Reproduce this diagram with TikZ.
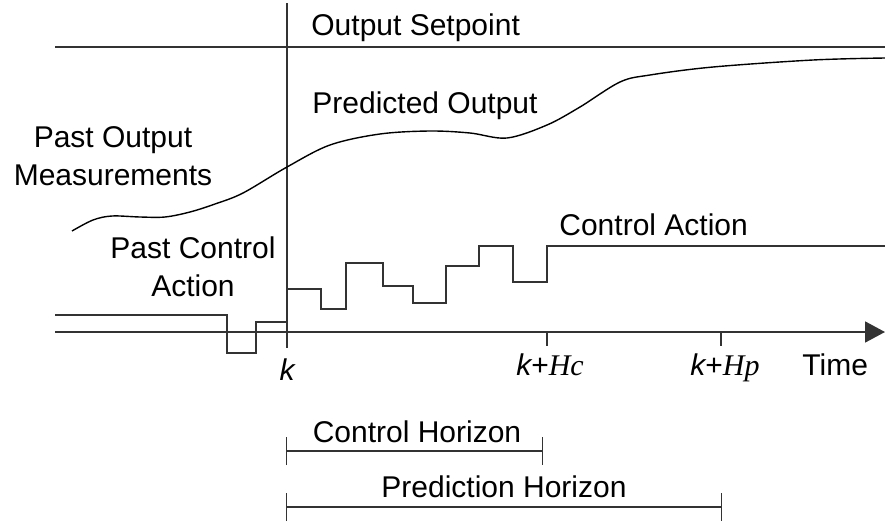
\documentclass[tikz,border=0pt]{standalone}
\usepackage{fontspec}
\setmainfont{Liberation Sans}
\newfontfamily\timesfont{Liberation Serif}
\usetikzlibrary{arrows.meta}

\tikzset{
  axisline/.style={line width=0.9pt, draw=black!80},
  sigline/.style={line width=0.8pt, draw=black!80},
  curveline/.style={line width=0.7pt, draw=black},
  lbl/.style={inner sep=0pt, font=\fontsize{15}{19}\selectfont},
  horizon/.style={line width=0.7pt, draw=black!80, {Bar[width=14pt]}-{Bar[width=14pt]}},
}
\newcommand{\tk}[2]{{\itshape #1}+{\timesfont\itshape #2}}

\begin{document}
\begin{tikzpicture}[x=0.5pt,y=-0.5pt]
\useasboundingbox (0,0) rectangle (885,525);

% axes and setpoint
\coordinate (k) at (287,332);
\draw[axisline] (55,47) -- (885,47);
\draw[axisline, -{Triangle[length=10pt,width=10.5pt]}] (55,332) -- (885,332);
\draw[axisline] (287,3) -- (287,348);
\foreach \x in {547,721} {
\draw[axisline] (\x,332) -- (\x,346);
}

% control signal
\draw[sigline] (55,315) -- (227,315) -- (227,353) -- (256,353) -- (256,322) -- (287,322);
\draw[sigline] (287,289) -- (321,289) -- (321,309) -- (346,309) -- (346,263)
  -- (383,263) -- (383,286) -- (413,286) -- (413,303) -- (446,303) -- (446,266)
  -- (479,266) -- (479,246) -- (513,246) -- (513,282) -- (547,282) -- (547,246) -- (885,246);

% output
\draw[curveline] plot[smooth, tension=0.55] coordinates {(72,231) (93,220) (112,216)
  (140,217) (165,217) (190,212) (215,204) (243,193) (287,167) (330,145) (380,134)
  (430,131) (470,133) (507,138) (547,125) (580,107) (620,82) (650,75) (713,67)
  (813,60) (885,58)};

% labels
\node[lbl, anchor=base west] (setpt) at (311,35) {Output Setpoint};
\node[lbl, anchor=base west] (predout) at (312,113) {Predicted Output};
\node[lbl, anchor=base west] (ctrlact) at (559,235) {Control Action};
\node[lbl, anchor=base, align=center] (pastout) at (113,185) {Past Output\\Measurements};
\node[lbl, anchor=base, align=center] (pastctrl) at (193,296) {Past Control\\Action};
\node[lbl, anchor=base] (klbl) at (287,380) {\itshape k};
\node[lbl, anchor=base] (hclbl) at (550,375) {\tk{k}{Hc}};
\node[lbl, anchor=base] (hplbl) at (725,375) {\tk{k}{Hp}};
\node[lbl, anchor=base west] (time) at (802,375) {Time};

% horizons
\coordinate (ch0) at (286,451);
\coordinate (ch1) at (543,451);
\coordinate (ph0) at (286,507);
\coordinate (ph1) at (722,507);
\draw[horizon] (ch0) -- (ch1);
\draw[horizon] (ph0) -- (ph1);
\node[lbl, anchor=base] (chlbl) at (417,442) {Control Horizon};
\node[lbl, anchor=base] (phlbl) at (504,497) {Prediction Horizon};
\end{tikzpicture}
\end{document}
